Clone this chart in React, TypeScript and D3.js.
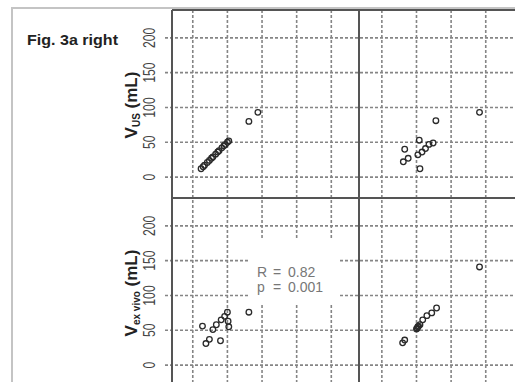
import React from 'react'
import * as d3 from 'd3'

// tick values shared by every panel
const ticks = [0, 50, 100, 150, 200]
const tickLabels = ['0', '50', '100', '150', '200']

// row / column variables
const rowLabels = [
  { main: 'V', sub: 'US', unit: ' (mL)' },
  { main: 'V', sub: 'ex vivo', unit: ' (mL)' }
]

// top-left panel
const tlX = [12, 15, 17, 21, 24, 27, 29, 33, 36, 38, 42, 45, 47, 50, 52, 81, 94]
const tlY = [12, 15, 17, 21, 24, 27, 29, 33, 36, 38, 42, 45, 47, 50, 52, 80, 93]

// top-right panel
const trX = [31, 33, 38, 52, 54, 55, 58, 63, 68, 74, 78, 141]
const trY = [22, 40, 27, 32, 53, 12, 36, 41, 47, 49, 81, 93]

// bottom-left panel
const blX = [14, 19, 24, 29, 34, 40, 41, 46, 50, 51, 52, 81]
const blY = [56, 31, 37, 51, 58, 35, 65, 70, 76, 63, 55, 76]

// bottom-right panel
const brX = [30, 33, 50, 51, 52, 53, 55, 59, 65, 72, 79, 141]
const brY = [32, 36, 52, 53, 55, 56, 58, 65, 71, 75, 82, 141]

const stats = [
  { k: 'R', v: '0.82' },
  { k: 'p', v: '0.001' }
]

const W = 515
const H = 382
const left = 172
const top = 10
const cell = 187
const cellH = 188

const font = '"Liberation Sans", Arial, sans-serif'

export default function App() {
  const xs = [
    d3.scaleLinear().domain([-30, 240]).range([left, left + cell]),
    d3.scaleLinear().domain([-33, 237]).range([left + cell, left + 2 * cell])
  ]
  const ys = [
    d3.scaleLinear().domain([-30, 240]).range([top + cellH, top]),
    d3.scaleLinear().domain([-30, 240]).range([top + 2 * cellH, top + cellH])
  ]

  const panels = [
    { c: 0, r: 0, x: tlX, y: tlY },
    { c: 1, r: 0, x: trX, y: trY },
    { c: 0, r: 1, x: blX, y: blY },
    { c: 1, r: 1, x: brX, y: brY }
  ]

  const grid = '#858585'
  const border = '#555'

  return (
    <svg width={W} height={H} style={{ position: 'absolute', left: 0, top: 0, background: '#fff' }}>
      <rect x={12} y={8} width={700} height={600} fill="#fff" stroke="#c4c4c4" strokeWidth={2} />

      {/* horizontal gridlines + ticks */}
      {ys.map((y, r) =>
        ticks.map(t => (
          <line key={`h${r}${t}`} x1={165} x2={W + 5} y1={y(t)} y2={y(t)}
            stroke={grid} strokeWidth={1.6} strokeDasharray="3,2" />
        ))
      )}
      {/* vertical gridlines */}
      {xs.map((x, c) =>
        ticks.map(t => (
          <line key={`v${c}${t}`} x1={x(t)} x2={x(t)} y1={top} y2={H + 5}
            stroke={grid} strokeWidth={1.6} strokeDasharray="3,2" />
        ))
      )}

      {/* stats box */}
      <rect x={248} y={238} width={92} height={66} fill="#fff" />

      {/* panel borders */}
      <line x1={left} x2={left} y1={top} y2={H + 5} stroke={border} strokeWidth={2} />
      <line x1={left + cell} x2={left + cell} y1={top} y2={H + 5} stroke={border} strokeWidth={2} />
      <line x1={left} x2={W + 5} y1={top} y2={top} stroke={border} strokeWidth={2} />
      <line x1={left} x2={W + 5} y1={top + cellH} y2={top + cellH} stroke={border} strokeWidth={2} />

      {/* points */}
      {panels.map((p, i) =>
        p.x.map((v, j) => (
          <circle key={`p${i}-${j}`} cx={xs[p.c](v)} cy={ys[p.r](p.y[j])} r={2.8}
            fill="none" stroke="#2a2a2a" strokeWidth={1.3} />
        ))
      )}

      {stats.map((s, i) => (
        <g key={s.k} fontFamily={font} fontSize={14} fill="#777">
          <text x={257} y={277 + i * 15}>{s.k}</text>
          <text x={273} y={277 + i * 15}>=</text>
          <text x={288} y={277 + i * 15}>{s.v}</text>
        </g>
      ))}

      {/* y tick labels */}
      {ys.map((y, r) =>
        ticks.map((t, i) => (
          <text key={`t${r}${t}`} transform={`translate(155,${y(t)}) rotate(-90)`}
            textAnchor="middle" fontFamily={font} fontSize={17} fill="#444"
            textLength={tickLabels[i].length * 6.8} lengthAdjust="spacingAndGlyphs">
            {tickLabels[i]}
          </text>
        ))
      )}

      {/* row titles */}
      {rowLabels.map((l, r) => (
        <text key={`rl${r}`} transform={`translate(137,${(ys[r](240) + ys[r](-30)) / 2 + 1}) rotate(-90)`}
          textAnchor="middle" fontFamily={font} fontSize={17} fontWeight="bold" fill="#222">
          <tspan>{l.main}</tspan>
          <tspan fontSize={10} dy={3}>{l.sub}</tspan>
          <tspan dy={-3}>{l.unit}</tspan>
        </text>
      ))}

      <text x={27} y={45} fontFamily={font} fontSize={15} fontWeight="bold" fill="#222"
        textLength={91} lengthAdjust="spacingAndGlyphs">
        Fig. 3a right
      </text>
    </svg>
  )
}
